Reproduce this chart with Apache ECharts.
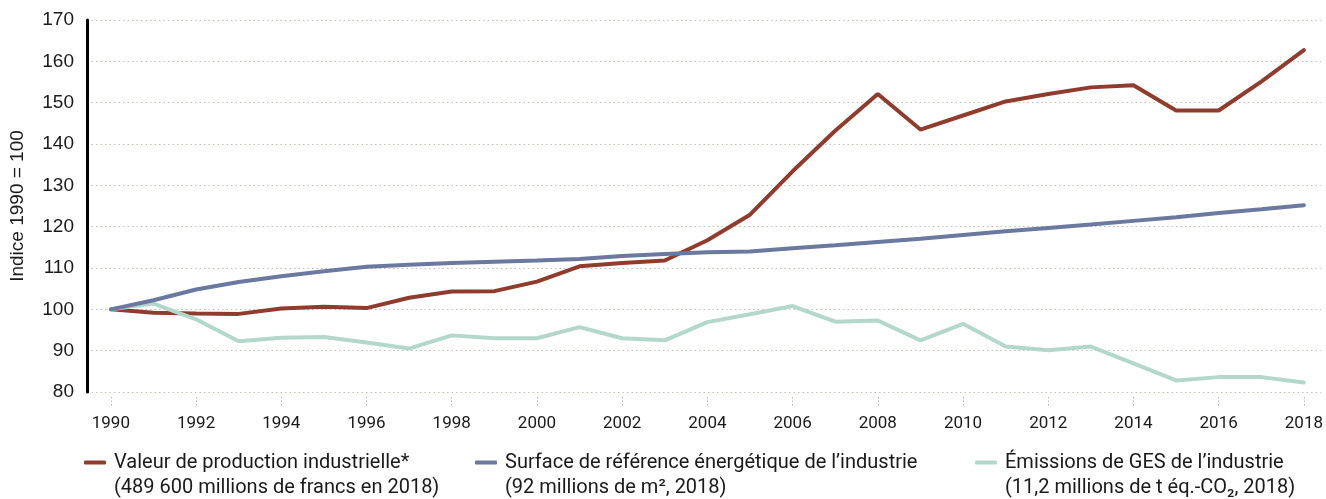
<!DOCTYPE html>
<html>
<head>
<meta charset="utf-8">
<script src="https://cdn.jsdelivr.net/npm/echarts@6/dist/echarts.min.js"></script>
<style>
  html, body { margin: 0; padding: 0; background: #fff; }
  #main { width: 1326px; height: 499px; }
</style>
</head>
<body>
<div id="main"></div>
<script>
// années et étiquettes de l'axe
const years = [1990, 1991, 1992, 1993, 1994, 1995, 1996, 1997, 1998, 1999, 2000, 2001, 2002, 2003, 2004,
  2005, 2006, 2007, 2008, 2009, 2010, 2011, 2012, 2013, 2014, 2015, 2016, 2017, 2018];
const yearTicks = [1990, 1992, 1994, 1996, 1998, 2000, 2002, 2004, 2006, 2008, 2010, 2012, 2014, 2016, 2018];

// indices (1990 = 100)
const valeurProduction = [100, 99.2, 99.0, 98.9, 100.2, 100.6, 100.3, 102.8, 104.3, 104.4, 106.7, 110.4, 111.2, 111.8, 116.7,
  122.9, 133.4, 143.2, 152.1, 143.5, 146.9, 150.3, 152.1, 153.7, 154.2, 148.1, 148.1, 155.1, 162.7];
const surfaceReference = [100, 102.2, 104.8, 106.6, 108.0, 109.2, 110.3, 110.8, 111.2, 111.5, 111.8, 112.2, 112.9, 113.4, 113.8,
  114.0, 114.8, 115.5, 116.3, 117.1, 118.0, 118.9, 119.7, 120.5, 121.4, 122.3, 123.3, 124.2, 125.2];
const emissionsGES = [100, 101.4, 97.6, 92.3, 93.1, 93.3, 92.0, 90.5, 93.7, 93.0, 93.0, 95.7, 93.0, 92.5, 96.9,
  98.8, 100.8, 97.0, 97.3, 92.5, 96.5, 91.0, 90.1, 91.0, 86.9, 82.8, 83.6, 83.6, 82.3];

const seriesNames = [
  'Valeur de production industrielle*',
  'Surface de référence énergétique de l’industrie',
  'Émissions de GES de l’industrie',
];
const seriesNotes = [
  '(489 600 millions de francs en 2018)',
  '(92 millions de m², 2018)',
  '(11,2 millions de t éq.-CO₂, 2018)',
];
const colors = ['#8f3c2f', '#6b789f', '#b4d7cb'];

const chart = echarts.init(document.getElementById('main'));

const pairs = (vals) => years.map((y, i) => [y, vals[i]]);

// une légende par série ; ligne vide en tête pour caler le trait sur la 1re ligne
const legendLeft = [84, 475, 975];
const legends = seriesNames.map((name, i) => ({
  data: [name],
  left: legendLeft[i],
  top: 425,
  padding: 0,
  icon: 'roundRect',
  itemWidth: 22,
  itemHeight: 4,
  selectedMode: false,
  formatter: (n) => ' \n' + n + '\n' + seriesNotes[i],
  textStyle: {
    fontFamily: 'Roboto',
    fontSize: 20,
    color: '#1a1a1a',
    lineHeight: 25,
    padding: [0, 0, 0, 3],
  },
}));

const mkLine = (i, vals) => ({
  name: seriesNames[i],
  type: 'line',
  data: pairs(vals),
  symbol: 'none',
  lineStyle: { width: 4, color: colors[i], cap: 'round' },
  itemStyle: { color: colors[i] },
});

const option = {
  animation: false,
  color: colors,
  grid: { left: 87, right: 5, top: 20, bottom: 107 },
  legend: legends,
  xAxis: {
    type: 'value',
    min: 1989.44,
    max: 2018.4,
    offset: 5,
    splitLine: { show: false },
    axisLine: { show: false },
    axisTick: {
      show: true,
      customValues: yearTicks,
      length: 9,
      lineStyle: { color: '#b9b4ac', type: [1.5, 2], width: 1 },
    },
    axisLabel: {
      customValues: yearTicks,
      formatter: (v) => String(v),
      fontFamily: 'Roboto',
      fontSize: 17,
      color: '#1a1a1a',
      margin: 18,
    },
  },
  yAxis: {
    type: 'value',
    min: 80,
    max: 170,
    interval: 10,
    name: 'Indice 1990 = 100',
    nameLocation: 'middle',
    nameGap: 60,
    nameTextStyle: { fontFamily: 'Liberation Sans', fontSize: 19, color: '#1a1a1a' },
    axisLine: { show: true, lineStyle: { color: '#000', width: 3 } },
    axisTick: { show: false },
    axisLabel: { fontFamily: 'Liberation Sans', fontSize: 19, color: '#1a1a1a', margin: 13 },
    splitLine: { show: true, lineStyle: { color: '#c4bfb7', type: [1.5, 3], width: 1 } },
  },
  series: [
    mkLine(0, valeurProduction),
    mkLine(2, emissionsGES),
    mkLine(1, surfaceReference),
  ],
};

chart.setOption(option);
</script>
</body>
</html>
